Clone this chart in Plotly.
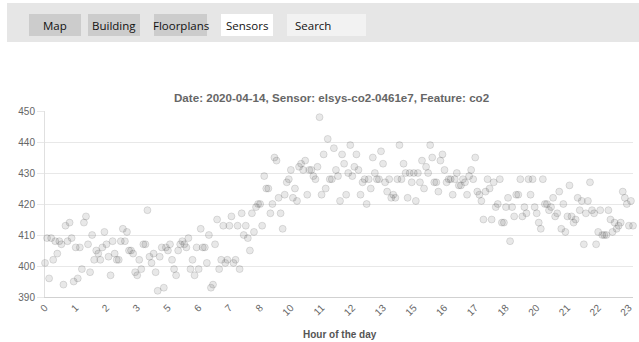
import plotly.graph_objects as go

# ---------------- data ----------------
co2_values = [
    401,409,396,409,402,408,404,408,407,394,413,408,414,409,395,406,396,406,399,414,
    416,407,398,410,402,405,404,402,406,411,407,403,397,408,404,402,402,408,412,408,
    411,405,405,404,398,397,402,
    399,407,407,418,403,401,404,398,392,403,406,393,406,405,407,402,399,397,405,407,
    408,407,406,409,399,402,397,406,399,412,406,406,401,410,393,394,407,415,399,402,
    413,401,402,413,416,401,
    402,413,399,417,410,413,409,405,417,411,419,420,420,413,429,425,425,417,420,435,
    434,422,417,412,423,427,428,431,422,425,421,432,433,431,434,423,431,431,429,428,
    432,448,423,436,425,441,428,
    428,438,431,429,421,436,433,423,430,439,429,432,436,431,423,427,428,420,428,425,
    435,430,428,428,437,433,427,424,428,422,423,422,428,439,428,433,430,422,430,427,
    430,421,430,427,434,425,
    432,430,439,435,427,427,424,434,436,431,427,428,428,423,428,430,426,426,428,427,
    423,429,431,428,435,424,423,421,415,424,428,425,415,427,419,420,428,414,414,419,
    422,408,419,416,423,423,428,
    416,419,417,428,423,428,419,417,414,412,428,420,420,418,419,422,416,417,424,412,
    420,411,416,426,416,414,415,422,418,421,407,417,421,427,418,417,407,411,418,410,
    410,410,418,415,411,414,412,413,414,424,422,420,413,421,413,
]
hour_tick_labels = ["0","1","2","3","5","6","7","8","10","11","12","13",
                    "15","16","17","18","20","21","22","23"]
label_step = 15          # every 15th sample label is shown on the category axis
y_ticks = [390, 400, 410, 420, 430, 440, 450]
nav_items = ["Map", "Building", "Floorplans", "Sensors", "Search"]
title_text = "Date: 2020-04-14, Sensor: elsys-co2-0461e7, Feature: co2"
x_title = "Hour of the day"

# ---------------- layout geometry ----------------
W, H = 639, 342
L, R, T, B = 45, 6, 111, 45
PW, PH = W - L - R, H - T - B

def px(xp):
    return (xp - L) / PW

def py(yp):
    return (H - B - yp) / PH

sample_idx = list(range(len(co2_values)))
tick_pos = [i * label_step for i in range(len(hour_tick_labels))]

fig = go.Figure()
fig.add_trace(go.Scatter(
    x=sample_idx, y=co2_values, mode="markers",
    marker=dict(size=7, color="rgba(0,0,0,0.09)",
                line=dict(width=1, color="rgba(0,0,0,0.11)")),
    cliponaxis=False, hoverinfo="y", showlegend=False,
))

shapes = []
annotations = []
# nav bar background
shapes.append(dict(type="rect", xref="paper", yref="paper",
                   x0=px(7), x1=px(W + 2), y0=py(42), y1=py(3),
                   fillcolor="#e6e6e6", line=dict(width=0), layer="below"))
nav_boxes = [(29, 81, "#cccccc"), (88, 140, "#cccccc"), (154, 207, "#cccccc"),
             (221, 273, "#ffffff"), (287, 366, "#f2f2f2")]
for (x0, x1, col), name in zip(nav_boxes, nav_items):
    shapes.append(dict(type="rect", xref="paper", yref="paper",
                       x0=px(x0), x1=px(x1), y0=py(36), y1=py(14),
                       fillcolor=col, line=dict(width=0), layer="below"))
    if name == "Search":
        annotations.append(dict(text=name, xref="paper", yref="paper",
                                x=px(293), y=py(25), xanchor="left", yanchor="middle",
                                showarrow=False,
                                font=dict(family="Open Sans", size=11.5, color="#111")))
    else:
        annotations.append(dict(text=name, xref="paper", yref="paper",
                                x=px((x0 + x1) / 2), y=py(25), xanchor="center",
                                yanchor="middle", showarrow=False,
                                font=dict(family="Open Sans", size=11.5, color="#111")))

annotations.append(dict(text="<b>" + title_text + "</b>", xref="paper", yref="paper",
                        x=px(331), y=py(97), xanchor="center", yanchor="middle",
                        showarrow=False,
                        font=dict(family="Liberation Sans, Arial", size=11.6, color="#666")))
annotations.append(dict(text="<b>" + x_title + "</b>", xref="paper", yref="paper",
                        x=px(340), y=py(334), xanchor="center", yanchor="middle",
                        showarrow=False,
                        font=dict(family="Liberation Sans, Arial", size=10, color="#555")))

fig.update_layout(
    width=W, height=H,
    margin=dict(l=L, r=R, t=T, b=B, pad=0),
    paper_bgcolor="white", plot_bgcolor="white",
    shapes=shapes, annotations=annotations,
    font=dict(family="Liberation Sans, Arial", size=10, color="#666"),
    xaxis=dict(range=[0, len(co2_values) - 1], tickmode="array",
               tickvals=tick_pos, ticktext=hour_tick_labels, tickangle=-45,
               showgrid=False, zeroline=False, showline=True,
               linecolor="rgba(0,0,0,0.18)", linewidth=1, ticks="",
               tickfont=dict(size=10, color="#666"), fixedrange=True),
    yaxis=dict(range=[390, 450], tickmode="array", tickvals=y_ticks,
               showgrid=True, gridcolor="rgba(0,0,0,0.09)", gridwidth=1,
               zeroline=False, showline=True, linecolor="rgba(0,0,0,0.12)",
               ticks="outside", ticklen=7, tickcolor="rgba(0,0,0,0.09)",
               tickfont=dict(size=10, color="#666"), fixedrange=True),
)

fig.write_html("out.html", config={"displayModeBar": False},
               post_script="document.body.style.margin='0';document.body.style.overflow='hidden';")
